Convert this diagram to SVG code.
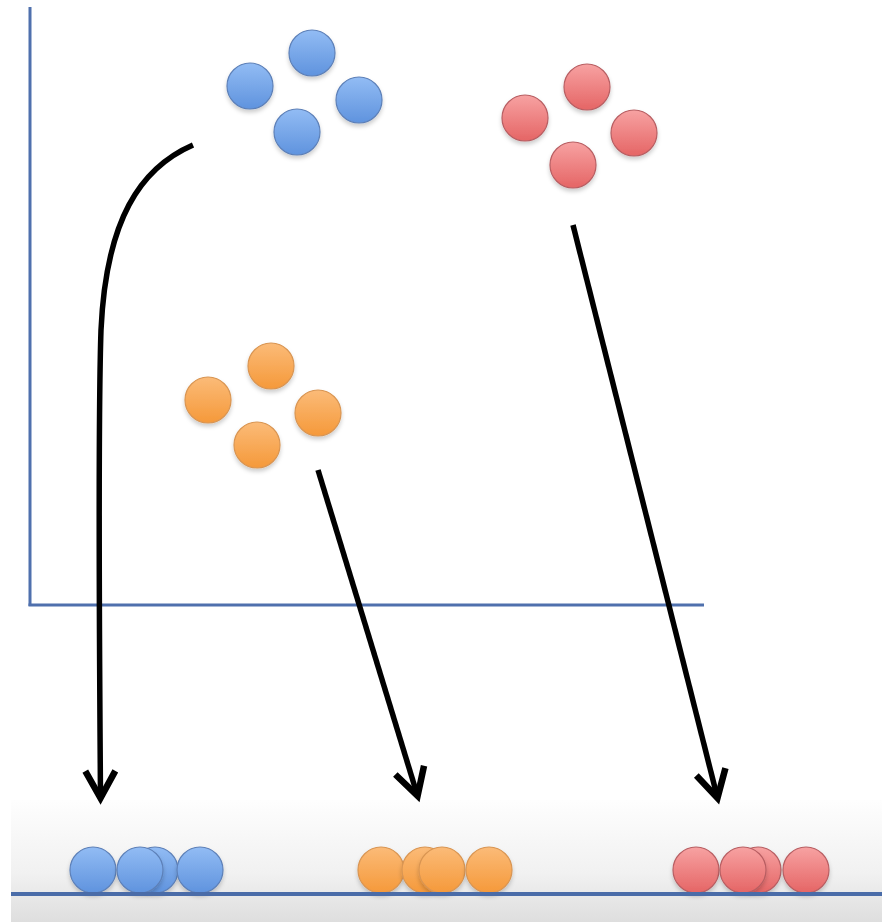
<svg xmlns="http://www.w3.org/2000/svg" width="882" height="922" viewBox="0 0 882 922">
  <defs>
    <linearGradient id="gBlue" x1="0" y1="0" x2="0" y2="1">
      <stop offset="0" stop-color="#92bcf4"/>
      <stop offset="1" stop-color="#5f93de"/>
    </linearGradient>
    <linearGradient id="gRed" x1="0" y1="0" x2="0" y2="1">
      <stop offset="0" stop-color="#f7a2a2"/>
      <stop offset="1" stop-color="#e56565"/>
    </linearGradient>
    <linearGradient id="gOrange" x1="0" y1="0" x2="0" y2="1">
      <stop offset="0" stop-color="#fbbb78"/>
      <stop offset="1" stop-color="#f5993a"/>
    </linearGradient>
    <linearGradient id="gFloor" x1="0" y1="0" x2="0" y2="1">
      <stop offset="0" stop-color="#fefefe"/>
      <stop offset="0.6" stop-color="#f1f1f1"/>
      <stop offset="1" stop-color="#dedede"/>
    </linearGradient>
    <filter id="shadow" x="-30%" y="-30%" width="160%" height="170%">
      <feDropShadow dx="0" dy="3" stdDeviation="2" flood-color="#000" flood-opacity="0.2"/>
    </filter>
    <marker id="arrow" markerUnits="userSpaceOnUse" markerWidth="60" markerHeight="60" refX="30" refY="30" orient="auto" viewBox="0 0 60 60">
      <path d="M5,15 L32,30 L5,45" fill="none" stroke="#000" stroke-width="6.5" stroke-linejoin="miter" stroke-linecap="butt"/>
    </marker>
    <style>
      .axis { stroke: #4f70ad; stroke-width: 3; fill: none; }
      .floor { stroke: #4a6ca8; stroke-width: 4; fill: none; }
      .conn { stroke: #000; stroke-width: 5.5; fill: none; marker-end: url(#arrow); }
      .blue { fill: url(#gBlue); stroke: #5d80b8; stroke-width: 1.2; filter: url(#shadow); }
      .red { fill: url(#gRed); stroke: #b85e62; stroke-width: 1.2; filter: url(#shadow); }
      .orange { fill: url(#gOrange); stroke: #d99552; stroke-width: 1.2; filter: url(#shadow); }
    </style>
  </defs>

  <rect x="0" y="0" width="882" height="922" fill="#ffffff"/>
  <rect x="11" y="800" width="871" height="122" fill="url(#gFloor)"/>

  <g id="axes">
    <line class="axis" x1="30" y1="7" x2="30" y2="606"/>
    <line class="axis" x1="28.5" y1="605" x2="704" y2="605"/>
  </g>

  <g id="blue-cluster">
    <circle class="blue" cx="312" cy="53" r="23"/>
    <circle class="blue" cx="250" cy="86" r="23"/>
    <circle class="blue" cx="359" cy="100" r="23"/>
    <circle class="blue" cx="297" cy="132" r="23"/>
  </g>

  <g id="red-cluster">
    <circle class="red" cx="587" cy="87" r="23"/>
    <circle class="red" cx="525" cy="118" r="23"/>
    <circle class="red" cx="634" cy="133" r="23"/>
    <circle class="red" cx="573" cy="165" r="23"/>
  </g>

  <g id="orange-cluster">
    <circle class="orange" cx="271" cy="366" r="23"/>
    <circle class="orange" cx="208" cy="400" r="23"/>
    <circle class="orange" cx="318" cy="413" r="23"/>
    <circle class="orange" cx="257" cy="445" r="23"/>
  </g>

  <g id="connectors">
    <path class="conn" d="M193,145 C140,168 106,220 101,330 C98,420 99,600 100.5,796"/>
    <path class="conn" d="M318,470 L417,794"/>
    <path class="conn" d="M573,225 L717,796"/>
  </g>

  <g id="blue-projection">
    <circle class="blue" cx="93" cy="870" r="23"/>
    <circle class="blue" cx="155" cy="870" r="23"/>
    <circle class="blue" cx="140" cy="870" r="23"/>
    <circle class="blue" cx="200" cy="870" r="23"/>
  </g>

  <g id="orange-projection">
    <circle class="orange" cx="381" cy="870" r="23"/>
    <circle class="orange" cx="425" cy="870" r="23"/>
    <circle class="orange" cx="442" cy="870" r="23"/>
    <circle class="orange" cx="489" cy="870" r="23"/>
  </g>

  <g id="red-projection">
    <circle class="red" cx="696" cy="870" r="23"/>
    <circle class="red" cx="758" cy="870" r="23"/>
    <circle class="red" cx="743" cy="870" r="23"/>
    <circle class="red" cx="806" cy="870" r="23"/>
  </g>

  <g id="floor-line">
    <line class="floor" x1="11" y1="894" x2="882" y2="894"/>
  </g>
</svg>
